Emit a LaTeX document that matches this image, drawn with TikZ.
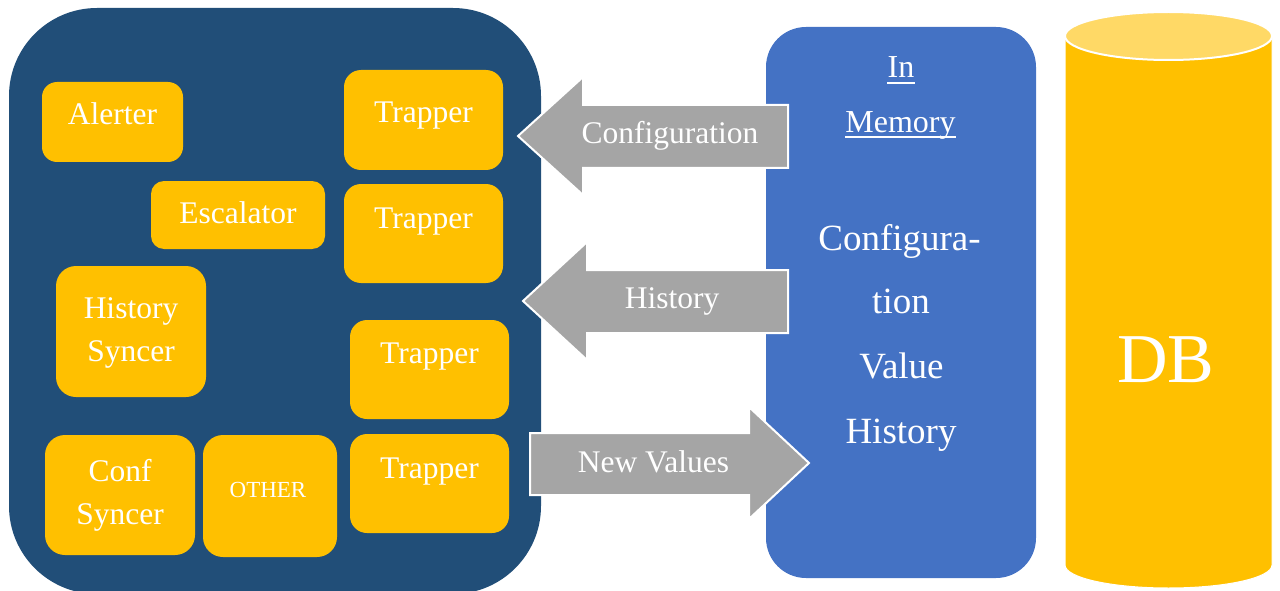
\documentclass[tikz,border=0pt]{standalone}
\usepackage{fontspec}
\setmainfont{Liberation Serif}
\definecolor{navy}{HTML}{214E78}
\definecolor{amber}{HTML}{FFC000}
\definecolor{amberlight}{HTML}{FFD966}
\definecolor{memblue}{HTML}{4472C4}
\definecolor{arrowgray}{HTML}{A5A5A5}
\tikzset{
  comp/.style={fill=amber, draw=none, inner sep=0pt, rounded corners=15pt},
  bigcomp/.style={comp, rounded corners=20pt},
  lbl/.style={text=white, inner sep=0pt, anchor=base,
    font=\fontsize{31.5}{38}\selectfont},
  smalllbl/.style={lbl, font=\fontsize{23}{28}\selectfont},
  memlbl/.style={lbl, font=\fontsize{32}{38}\selectfont},
  memcontent/.style={lbl, font=\fontsize{37}{44}\selectfont},
  dblbl/.style={lbl, font=\fontsize{70}{80}\selectfont},
  blockarrow/.style={fill=arrowgray, draw=white, line width=2pt, line join=miter},
  uline/.style={draw=white, line width=1.4pt}
}
\begin{document}
\begin{tikzpicture}[x=1pt, y=-1pt]
\useasboundingbox (0,0) rectangle (1280,591);

% server process container
\fill[navy, rounded corners=88pt] (9,8) rectangle (541,594);

% worker components
\node[comp, minimum width=141pt, minimum height=80pt] (alerter) at (112.5,122) {};
\node[comp, minimum width=174pt, minimum height=68pt, rounded corners=13pt] (escalator) at (238,215) {};
\node[comp, minimum width=159pt, minimum height=100pt, rounded corners=17pt] (trap1) at (423.5,120) {};
\node[comp, minimum width=159pt, minimum height=99pt, rounded corners=17pt] (trap2) at (423.5,233.5) {};
\node[bigcomp, minimum width=150pt, minimum height=131pt] (histsync) at (131,331.5) {};
\node[comp, minimum width=159pt, minimum height=99pt, rounded corners=17pt] (trap3) at (429.5,369.5) {};
\node[bigcomp, minimum width=150pt, minimum height=120pt] (confsync) at (120,495) {};
\node[bigcomp, minimum width=134pt, minimum height=122pt] (other) at (270,496) {};
\node[comp, minimum width=159pt, minimum height=99pt, rounded corners=17pt] (trap4) at (429.5,483.5) {};

\node[lbl] (alerter-t) at (112.5,124.4) {Alerter};
\node[lbl] (escalator-t) at (238,223) {Escalator};
\node[lbl] (trap1-t) at (423.5,122.5) {Trapper};
\node[lbl] (trap2-t) at (423.5,228) {Trapper};
\node[lbl] (histsync-t1) at (131,318.5) {History};
\node[lbl] (histsync-t2) at (131,361) {Syncer};
\node[lbl] (trap3-t) at (429.5,363.7) {Trapper};
\node[lbl] (confsync-t1) at (120,481.7) {Conf};
\node[lbl] (confsync-t2) at (120,524.7) {Syncer};
\node[smalllbl] (other-t) at (268,497.5) {OTHER};
\node[lbl] (trap4-t) at (429.5,478) {Trapper};

% in-memory cache
\fill[memblue, rounded corners=40pt] (766,27) rectangle (1036,578);
\node[memlbl] (in-t) at (901,78) {In};
\node[memlbl] (mem-t) at (900.5,133) {Memory};
\draw[uline] ([yshift=-5pt]in-t.base west) -- ([yshift=-5pt]in-t.base east);
\draw[uline] ([yshift=-4pt]mem-t.base west) -- ([yshift=-4pt]mem-t.base east);
\node[memcontent] (cfg1-t) at (899.5,250) {Configura-};
\node[memcontent] (cfg2-t) at (901,313) {tion};
\node[memcontent] (val-t) at (901.5,378) {Value};
\node[memcontent] (hist-t) at (901,443) {History};

% database cylinder
\path[fill=amber, draw=white, line width=1pt]
  (1065,36) -- (1065,565)
  arc[start angle=180, end angle=360, x radius=103.5pt, y radius=23pt]
  -- (1272,36)
  arc[start angle=0, end angle=180, x radius=103.5pt, y radius=24pt] -- cycle;
\path[fill=amberlight, draw=white, line width=2pt]
  (1168.5,36) ellipse[x radius=103.5pt, y radius=24pt];
\node[dblbl] (db-t) at (1166,382.6) {DB};

% data flow block arrows
\path[blockarrow] (518,136) -- (583,77) -- (583,105) -- (788,105)
  -- (788,168) -- (583,168) -- (583,195) -- cycle;
\path[blockarrow] (523,301) -- (587,242) -- (587,270) -- (788,270)
  -- (788,333) -- (587,333) -- (587,360) -- cycle;
\path[blockarrow] (809,463) -- (749,407) -- (749,433) -- (530,433)
  -- (530,495) -- (749,495) -- (749,519) -- cycle;
\node[lbl] (conf-flow) at (670,143.3) {Configuration};
\node[lbl] (hist-flow) at (672,308) {History};
\node[lbl] (new-flow) at (653.5,472.7) {New Values};
\end{tikzpicture}
\end{document}
